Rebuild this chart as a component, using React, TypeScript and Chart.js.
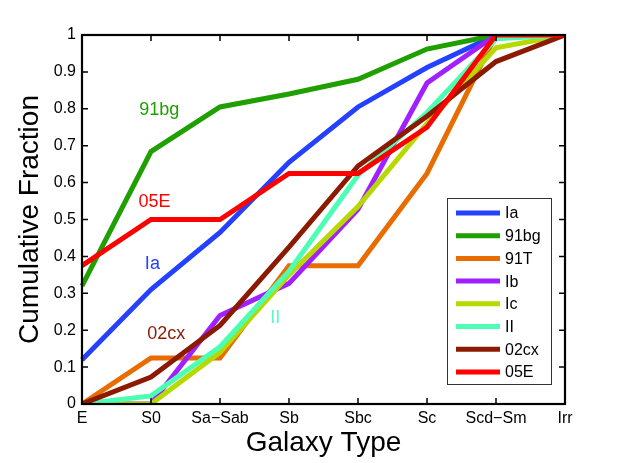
import { useEffect, useRef } from "react";
import Chart from "chart.js/auto";

const galaxyTypes = ["E", "S0", "Sa\u2212Sab", "Sb", "Sbc", "Sc", "Scd\u2212Sm", "Irr"];
const yTicks = [0, 0.1, 0.2, 0.3, 0.4, 0.5, 0.6, 0.7, 0.8, 0.9, 1];

const seriesNames = ["Ia", "91bg", "91T", "Ib", "Ic", "II", "02cx", "05E"];
const seriesColors = ["#2441ff", "#1f9f00", "#e86c00", "#a020ff", "#b7d800", "#4dffb4", "#8b1a00", "#ff0000"];

const ia = [0.12, 0.31, 0.465, 0.655, 0.805, 0.912, 1, 1];
const bg91 = [0.32, 0.684, 0.805, 0.84, 0.88, 0.962, 1, 1];
const t91 = [0, 0.125, 0.125, 0.375, 0.375, 0.625, 1, 1];
const ib = [0, 0, 0.24, 0.327, 0.528, 0.87, 1, 1];
const ic = [0, 0, 0.14, 0.35, 0.535, 0.76, 0.965, 1];
const ii = [0, 0.022, 0.155, 0.36, 0.62, 0.79, 0.99, 1];
const cx02 = [0, 0.073, 0.213, 0.425, 0.645, 0.78, 0.928, 1];
const e05 = [0.375, 0.5, 0.5, 0.625, 0.625, 0.75, 1, 1];

const seriesValues = [ia, bg91, t91, ib, ic, ii, cx02, e05];

// text labels in the plot: [text, category index, value, colour]
const notes: [string, number, number, string][] = [
  ["91bg", 1.12, 0.797, "#1f9f00"],
  ["05E", 1.05, 0.548, "#ff0000"],
  ["Ia", 1.02, 0.38, "#2441ff"],
  ["02cx", 1.22, 0.19, "#8b1a00"],
  ["II", 2.8, 0.232, "#5cf5cc"],
];

const FONT = "'Liberation Sans', Arial, Helvetica, sans-serif";

const framePlugin = {
  id: "frame",
  afterDraw(chart: any) {
    const { ctx, chartArea } = chart;
    const { left, right, top, bottom } = chartArea;
    const xs = chart.scales.x;
    const ys = chart.scales.y;
    ctx.save();

    // notes
    ctx.font = "18px " + FONT;
    ctx.textAlign = "center";
    ctx.textBaseline = "middle";
    notes.forEach(([t, xi, v, c]) => {
      ctx.fillStyle = c;
      ctx.fillText(t, xs.getPixelForValue(xi), ys.getPixelForValue(v));
    });

    // inward ticks
    ctx.strokeStyle = "#000";
    ctx.lineWidth = 1.5;
    const tl = 6;
    ctx.beginPath();
    galaxyTypes.forEach((_, i) => {
      const px = xs.getPixelForValue(i);
      ctx.moveTo(px, bottom);
      ctx.lineTo(px, bottom - tl);
      ctx.moveTo(px, top);
      ctx.lineTo(px, top + tl);
    });
    yTicks.forEach((v) => {
      const py = ys.getPixelForValue(v);
      ctx.moveTo(left, py);
      ctx.lineTo(left + tl, py);
      ctx.moveTo(right, py);
      ctx.lineTo(right - tl, py);
    });
    ctx.stroke();

    // frame
    ctx.lineWidth = 2.2;
    ctx.strokeRect(left, top, right - left, bottom - top);

    // legend box
    const bw = 104;
    const bh = 186;
    const bx = right - 14 - bw;
    const by = bottom - 20 - bh;
    ctx.fillStyle = "#fff";
    ctx.fillRect(bx, by, bw, bh);
    ctx.lineWidth = 1;
    ctx.strokeStyle = "#333";
    ctx.strokeRect(bx + 0.5, by + 0.5, bw, bh);
    ctx.font = "16px " + FONT;
    ctx.textAlign = "left";
    ctx.textBaseline = "middle";
    seriesNames.forEach((name, i) => {
      const cy = by + 15 + i * 22.7;
      ctx.strokeStyle = seriesColors[i];
      ctx.lineWidth = 5;
      ctx.beginPath();
      ctx.moveTo(bx + 9, cy);
      ctx.lineTo(bx + 53, cy);
      ctx.stroke();
      ctx.fillStyle = "#000";
      ctx.fillText(name, bx + 58, cy + 1);
    });

    ctx.restore();
  },
};

export default function App() {
  const chartRef = useRef<HTMLCanvasElement | null>(null);

  useEffect(() => {
    document.body.style.margin = "0";
    if (chartRef && chartRef.current) {
      Chart.defaults.font.family = FONT;
      Chart.defaults.color = "#000";
      const chartInstance = new Chart(chartRef.current, {
        type: "line",
        data: {
          labels: galaxyTypes,
          datasets: seriesNames.map((name, i) => ({
            label: name,
            data: seriesValues[i],
            borderColor: seriesColors[i],
            backgroundColor: seriesColors[i],
            borderWidth: 5,
            pointRadius: 0,
            tension: 0,
            fill: false,
            order: seriesNames.length - i,
          })),
        },
        options: {
          animation: false,
          responsive: true,
          maintainAspectRatio: false,
          layout: { padding: { top: 35, right: 58, left: 0, bottom: 0 } },
          plugins: {
            legend: { display: false },
            tooltip: { enabled: false },
          },
          scales: {
            x: {
              type: "category",
              offset: false,
              grid: { display: false, drawTicks: false },
              border: { display: false },
              ticks: {
                autoSkip: false,
                maxRotation: 0,
                padding: 5,
                color: "#000",
                font: { size: 16 },
              },
              title: {
                display: true,
                text: "Galaxy Type",
                color: "#000",
                font: { size: 28 },
                padding: { top: 0, bottom: 3 },
              },
              afterFit: (s: any) => {
                s.height = 59;
              },
            },
            y: {
              type: "linear",
              min: 0,
              max: 1,
              grid: { display: false, drawTicks: false },
              border: { display: false },
              ticks: {
                stepSize: 0.1,
                padding: 6,
                color: "#000",
                font: { size: 16 },
                callback: (v: any) => String(Number(Number(v).toFixed(1))),
              },
              title: {
                display: true,
                text: "Cumulative Fraction",
                color: "#000",
                font: { size: 28 },
                padding: { top: 13, bottom: 0 },
              },
              afterFit: (s: any) => {
                s.width = 82;
              },
            },
          },
        },
        plugins: [framePlugin],
      });

      return () => {
        chartInstance.destroy();
      };
    }
  }, []);

  return (
    <div style={{ position: "fixed", left: 0, top: 0, width: 623, height: 463, background: "#fff" }}>
      <canvas ref={chartRef} />
    </div>
  );
}
